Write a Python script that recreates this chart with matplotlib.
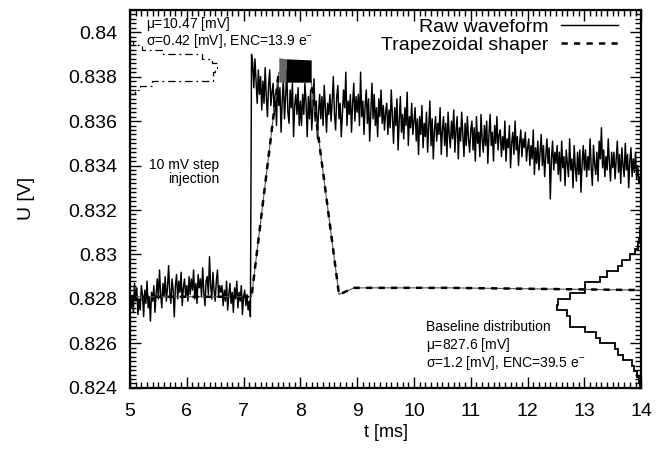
import numpy as np
import matplotlib
matplotlib.use("Agg")
import matplotlib.pyplot as plt
from matplotlib.ticker import MultipleLocator, FuncFormatter

plt.rcParams['font.family'] = ['Liberation Sans', 'DejaVu Sans']
plt.rcParams['mathtext.default'] = 'regular'

# raw waveform, sampled every 0.02 ms from t = 5.00 ms, values in mV
dt_ms = 0.02
raw_before_mv = [
    828.3, 827.6, 828.1, 827.4, 828.7, 827.9, 828.5, 827.3, 828.0, 827.5, 828.6, 828.2,
    827.2, 828.4, 827.8, 828.8, 827.6, 828.1, 827.0, 828.3, 827.9, 828.6, 827.4, 828.2,
    828.9, 828.0, 829.3, 828.2, 827.6, 828.7, 828.1, 829.0, 827.9, 828.5, 829.5, 828.3,
    827.8, 828.9, 828.4, 827.2, 828.6, 829.1, 828.0, 828.8, 828.3, 829.2, 827.7, 828.5,
    828.9, 828.1, 828.6, 827.9, 829.0,
    828.2, 828.9, 828.4, 829.3, 828.0, 828.7, 827.8, 829.1, 828.5, 828.9, 828.1, 829.4,
    828.3, 827.7, 828.8, 829.0, 828.2, 829.9, 828.6, 828.0, 829.2, 828.4, 827.9, 828.8,
    829.3, 828.1, 828.6, 828.3,
    828.6, 827.7, 828.4, 827.9, 828.8, 827.5, 828.2, 828.7, 827.8, 828.3, 827.4, 828.5,
    828.0, 828.8, 827.6, 828.3, 827.9, 828.6, 827.3, 828.1, 828.4, 827.7, 828.2, 827.5,
    827.9, 827.2,
]
raw_after_mv = [
    839.0, 838.6, 837.5, 838.8, 837.8, 836.8, 838.3, 837.2, 838.0,
    836.5, 837.8, 836.8, 838.4, 837.1, 836.2, 837.6, 838.3, 836.7, 837.3,
    837.7, 836.3, 837.2, 835.8, 838.0, 836.7, 837.5, 835.5, 836.9, 837.9, 836.1, 837.1,
    838.3, 836.4, 835.9, 837.4, 836.6, 837.7, 835.3, 836.7, 837.2, 836.3, 837.5, 835.8, 836.9,
    835.8, 837.2, 836.3, 837.7, 836.8, 835.3, 837.1, 836.1, 837.4, 835.6, 836.6, 837.9,
    836.0, 836.9, 835.2, 836.4, 837.2, 836.1, 837.1, 835.8, 837.6, 836.6, 835.5, 836.8, 836.3,
    837.2, 836.0, 836.9, 838.0, 836.3, 835.6, 837.1, 837.6, 836.1, 836.8, 835.3, 836.4,
    837.4, 836.6, 838.2, 835.8, 836.9, 836.3, 837.2, 835.5, 836.8, 837.7, 836.0, 837.1, 836.4,
    837.2, 835.8, 838.2, 836.2, 836.9, 835.4, 836.7, 837.4, 835.9, 837.0, 835.1, 836.4,
    837.7, 836.1, 837.2, 835.8, 836.6, 835.3, 837.0, 836.2, 837.4, 835.9, 836.7, 835.6, 836.4,
    836.8, 835.4, 836.5, 835.7, 837.4, 836.2, 835.0, 836.6, 835.8, 837.0, 834.7, 836.0,
    837.1, 835.5, 836.3, 835.2, 836.6, 835.8, 837.3, 834.9, 836.2, 835.7, 836.8, 835.4, 836.0,
    836.6, 835.1, 836.1, 834.5, 836.2, 835.4, 836.7, 834.8, 835.9, 835.3, 836.4, 834.6,
    835.8, 836.9, 834.9, 836.1, 834.3, 835.6, 836.2, 835.1, 835.9, 835.4, 836.6, 834.5, 835.6,
    836.2, 834.9, 835.9, 834.4, 836.4, 835.4, 834.8, 836.0, 835.2, 836.5, 834.6, 835.6,
    836.2, 834.3, 835.7, 835.1, 836.4, 835.4, 834.4, 835.9, 834.9, 836.2, 835.2, 834.6, 835.6,
    836.0, 834.7, 835.7, 834.2, 836.2, 835.0, 835.5, 834.4, 836.3, 835.2, 834.6, 835.8,
    834.9, 836.0, 834.1, 835.4, 836.3, 834.9, 835.5, 834.2, 835.8, 835.0, 836.2, 834.7, 835.4,
    835.6, 834.4, 835.3, 834.7, 836.0, 834.2, 835.2, 834.8, 835.8, 833.9, 835.0, 835.5,
    834.5, 836.0, 834.7, 835.3, 834.0, 835.0, 835.6, 834.4, 835.2, 834.8, 835.5, 834.2, 834.8,
    835.2, 834.0, 834.9, 834.3, 835.6, 833.6, 834.8, 834.1, 835.1, 833.8, 834.6, 835.4,
    834.0, 834.9, 833.5, 834.4, 835.2, 834.1, 834.8, 832.5, 834.3, 835.1, 833.8, 834.6, 834.1,
    834.9, 833.6, 834.6, 833.3, 835.1, 833.9, 834.4, 833.1, 834.7, 834.1, 833.5, 835.2,
    833.8, 834.3, 833.0, 834.9, 833.9, 833.3, 834.6, 833.6, 834.7, 832.8, 834.1, 834.9, 833.8,
    834.7, 833.5, 834.4, 833.8, 835.2, 833.9, 833.1, 834.9, 834.1, 833.6, 834.6, 833.3,
    835.1, 834.3, 835.7, 833.9, 834.7, 833.5, 834.4, 833.8, 835.2, 834.1, 833.3, 834.6, 833.9,
    834.6, 833.4, 834.3, 835.1, 833.7, 834.5, 833.2, 834.8, 834.0, 833.5, 835.0, 833.8,
    834.5, 833.0, 834.2, 834.8, 833.5, 834.3, 833.7, 834.6, 833.4, 834.0, 833.2, 833.5, 832.7,
]

# trapezoidal shaper output (corner points), mV
shaper_t = [5.0, 7.14, 7.62, 8.19, 8.68, 8.95, 10.6, 14.0]
shaper_mv = [828.1, 828.1, 838.2, 837.8, 828.2, 828.5, 828.5, 828.4]
# flat top of the trapezoid is a dense band
plateau_t = [7.62, 7.75, 8.19]
plateau_lo_mv = [837.75, 837.75, 837.75]
plateau_hi_mv = [838.85, 838.80, 838.75]

# amplitude histogram (top left), bin edges mV, lengths in ms
amp_edges_mv = [837.2, 837.4, 837.6, 837.8, 838.0, 838.2, 838.4, 838.6, 838.8, 839.0, 839.2, 839.4, 839.6]
amp_len = [0.08, 0.18, 0.38, 1.46, 1.46, 1.50, 1.53, 1.44, 1.27, 0.58, 0.21, 0.05]

# baseline histogram (bottom right)
base_edges_mv = [824.0 + 0.25 * i for i in range(31)]
base_len = [0.02, 0.04, 0.07, 0.12, 0.16, 0.32, 0.40, 0.46, 0.72, 0.80, 0.99, 1.25, 1.25, 1.30, 1.48,
            1.46, 1.25, 0.99, 0.99, 0.72, 0.60, 0.40, 0.33, 0.19, 0.11, 0.05, 0.03, 0.02, 0.02, 0.0]

raw_v = np.array(raw_before_mv + raw_after_mv) / 1000.0
raw_t = 5.0 + dt_ms * np.arange(len(raw_v))

fig = plt.figure(figsize=(6.7, 4.5), dpi=100)
ax = fig.add_axes([0.194, 0.138, 0.763, 0.840])

ax.plot(raw_t, raw_v, color='black', lw=1.05, label='Raw waveform')

sv = np.array(shaper_mv) / 1000.0
ax.plot(shaper_t, sv, color='#555555', lw=0.8)
ax.plot(shaper_t, sv, color='black', lw=1.8, ls=(0, (2.5, 2.5)), label='Trapezoidal shaper')
ax.fill_between(plateau_t[:2], np.array(plateau_lo_mv[:2]) / 1000, np.array(plateau_hi_mv[:2]) / 1000,
                color='#666666', lw=0, zorder=3)
ax.fill_between(plateau_t[1:], np.array(plateau_lo_mv[1:]) / 1000, np.array(plateau_hi_mv[1:]) / 1000,
                color='black', lw=0, zorder=3)

ax.stairs(5.0 + np.array(amp_len), np.array(amp_edges_mv) / 1000, baseline=5.0,
          orientation='horizontal', color='black', lw=0.9, ls=(0, (6, 3, 1.5, 3)))
ax.stairs(14.0 - np.array(base_len), np.array(base_edges_mv) / 1000, baseline=14.0,
          orientation='horizontal', color='black', lw=1.3)

ax.set_xlim(5, 14)
ax.set_ylim(0.824, 0.841)
ax.xaxis.set_major_locator(MultipleLocator(1))
ax.xaxis.set_minor_locator(MultipleLocator(0.1))
ax.yaxis.set_major_locator(MultipleLocator(0.002))
ax.yaxis.set_minor_locator(MultipleLocator(0.0002))
ax.yaxis.set_major_formatter(FuncFormatter(lambda v, p: '%g' % round(v, 6)))
ax.tick_params(which='both', direction='in', top=True, right=True, labelsize=14, width=1)
ax.tick_params(which='major', length=8)
ax.tick_params(which='minor', length=4)
ax.tick_params(axis='x', pad=11)
ax.tick_params(axis='y', pad=9)
for s in ax.spines.values():
    s.set_linewidth(1.6)

ax.set_xlabel('t [ms]', fontsize=13, labelpad=3)
ax.set_ylabel('U [V]', fontsize=14, labelpad=24)

ax.legend(loc='upper right', bbox_to_anchor=(0.969, 0.998), frameon=False, markerfirst=False,
          fontsize=14, handlelength=2.9, labelspacing=0.0, borderaxespad=0, handletextpad=0.67)

ax.text(5.28, 0.84036, r'$\mu$=10.47 [mV]', fontsize=10, va='center')
ax.text(5.28, 0.83958, r'$\sigma$=0.42 [mV], ENC=13.9 e$^{-}$', fontsize=10, va='center')
ax.text(6.57, 0.83402, '10 mV step', fontsize=10, ha='right', va='center')
ax.text(6.57, 0.83338, 'injection', fontsize=10, ha='right', va='center')
ax.text(10.21, 0.82674, 'Baseline distribution', fontsize=10, va='center')
ax.text(10.21, 0.82593, r'$\mu$=827.6 [mV]', fontsize=10, va='center')
ax.text(10.21, 0.82512, r'$\sigma$=1.2 [mV], ENC=39.5 e$^{-}$', fontsize=10, va='center')

fig.savefig('out.png', dpi=100)
